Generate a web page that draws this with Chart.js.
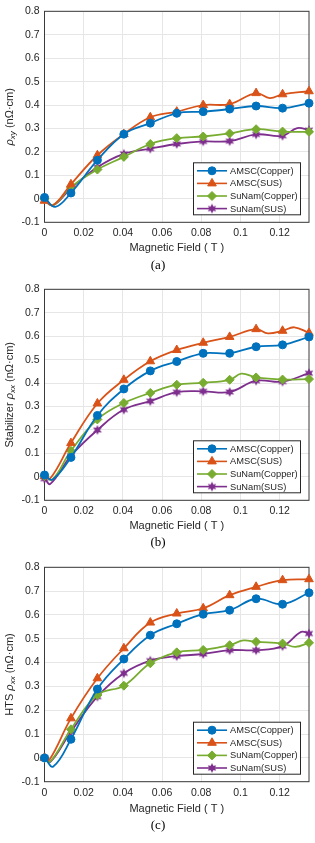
<!DOCTYPE html>
<html>
<head>
<meta charset="utf-8">
<script src="https://cdn.jsdelivr.net/npm/chart.js@4.4.1/dist/chart.umd.min.js"></script>
<style>
  html, body { margin: 0; padding: 0; background: #fff; }
  #wrap { position: relative; width: 315px; height: 843px; }
  canvas { position: absolute; left: 0; }
</style>
</head>
<body>
<div id="wrap">
  <canvas id="chartA" width="315" height="278" style="top:0"></canvas>
  <canvas id="chartB" width="315" height="278" style="top:278px"></canvas>
  <canvas id="chartC" width="315" height="287" style="top:556px"></canvas>
</div>
<script>
// magnetic field steps (T)
const fieldT = [0, 0.0135, 0.027, 0.0405, 0.054, 0.0675, 0.081, 0.0945, 0.108, 0.1215, 0.135];
const seriesNames = ['AMSC(Copper)', 'AMSC(SUS)', 'SuNam(Copper)', 'SuNam(SUS)'];
const yTicks = [-0.1, 0, 0.1, 0.2, 0.3, 0.4, 0.5, 0.6, 0.7, 0.8];
const xTicks = [0, 0.02, 0.04, 0.06, 0.08, 0.1, 0.12];

// (a) rho_xy
const xyAmscCopper = [0.006, 0.025, 0.165, 0.276, 0.323, 0.365, 0.372, 0.383, 0.396, 0.387, 0.408];
const xyAmscSus = [-0.008, 0.062, 0.186, 0.276, 0.348, 0.372, 0.400, 0.404, 0.451, 0.446, 0.459];
const xySunamCopper = [0, 0.050, 0.125, 0.179, 0.234, 0.259, 0.266, 0.279, 0.297, 0.287, 0.286];
const xySunamSus = [0, 0.045, 0.135, 0.192, 0.214, 0.234, 0.245, 0.246, 0.275, 0.269, 0.293];
// extra points of the drawn curves between markers (field, value)
const xyCurveAmscCopper = [[0.0055, -0.034]];
const xyCurveAmscSus = [[0.0043, -0.027], [0.115, 0.430]];
const xyCurveSunamCopper = [[0.0043, -0.027]];
const xyCurveSunamSus = [[0.0043, -0.028], [0.129, 0.302]];

// (b) stabilizer rho_xx
const sxAmscCopper = [0.008, 0.083, 0.262, 0.375, 0.452, 0.492, 0.527, 0.527, 0.555, 0.563, 0.597];
const sxAmscSus = [0.003, 0.144, 0.313, 0.414, 0.493, 0.541, 0.572, 0.597, 0.630, 0.623, 0.614];
const sxSunamCopper = [0.003, 0.111, 0.245, 0.315, 0.358, 0.393, 0.401, 0.414, 0.424, 0.415, 0.417];
const sxSunamSus = [-0.008, 0.090, 0.200, 0.287, 0.323, 0.361, 0.365, 0.362, 0.410, 0.406, 0.442];
const sxCurveAmscCopper = [[0.004, -0.012]];
const sxCurveAmscSus = [[0.003, -0.006], [0.114, 0.612], [0.1275, 0.638]];
const sxCurveSunamCopper = [[0.004, -0.012], [0.1005, 0.440]];
const sxCurveSunamSus = [[0.003, -0.030]];

// (c) HTS rho_xx
const hxAmscCopper = [0, 0.078, 0.289, 0.415, 0.515, 0.563, 0.603, 0.620, 0.668, 0.645, 0.693];
const hxAmscSus = [0, 0.166, 0.334, 0.460, 0.568, 0.606, 0.628, 0.683, 0.718, 0.746, 0.750];
const hxSunamCopper = [0, 0.120, 0.264, 0.303, 0.397, 0.443, 0.453, 0.473, 0.487, 0.480, 0.483];
const hxSunamSus = [0, 0.110, 0.257, 0.355, 0.408, 0.427, 0.436, 0.452, 0.452, 0.469, 0.522];
const hxCurveAmscCopper = [[0.0045, -0.036]];
const hxCurveAmscSus = [[0.0025, -0.008]];
const hxCurveSunamCopper = [[0.003, -0.015], [0.1015, 0.493], [0.128, 0.466]];
const hxCurveSunamSus = [[0.003, -0.017], [0.131, 0.529]];

const FONT = "'Liberation Sans', Arial, sans-serif";
Chart.defaults.font.family = FONT;
Chart.defaults.font.size = 10.5;
Chart.defaults.color = '#262626';

function makeStar(color, r) {
    const c = document.createElement('canvas');
    const s = Math.ceil(r * 2 + 2);
    c.width = s; c.height = s;
    const g = c.getContext('2d');
    g.fillStyle = color;
    g.beginPath();
    for (let i = 0; i < 12; i++) {
        const ang = -Math.PI / 2 + i * Math.PI / 6;
        const rr = i % 2 === 0 ? r : r * 0.5;
        g.lineTo(s / 2 + rr * Math.cos(ang), s / 2 + rr * Math.sin(ang));
    }
    g.closePath();
    g.fill();
    return c;
}

const styles = [
    { color: '#0072BD', point: 'circle', radius: 4 },
    { color: '#D95319', point: 'triangle', radius: 5 },
    { color: '#77AC30', point: 'rectRot', radius: 4.5 },
    { color: '#7E2F8E', point: makeStar('#7E2F8E', 5), radius: 5 }
];

function makeDataset(i, values, curve) {
    const st = styles[i];
    const pts = values.map((v, k) => ({ x: fieldT[k], y: v, mark: true }));
    curve.forEach(p => pts.push({ x: p[0], y: p[1], mark: false }));
    pts.sort((p, q) => p.x - q.x);
    return {
        label: seriesNames[i],
        data: pts,
        borderColor: st.color,
        backgroundColor: st.color,
        borderWidth: 1.8,
        tension: 0.4,
        pointStyle: st.point,
        pointRadius: ctx => (ctx.raw && ctx.raw.mark ? st.radius : 0),
        pointBorderWidth: 1,
        pointHoverRadius: 0,
        clip: false
    };
}

function fmt(v) {
    return parseFloat(v.toFixed(4)).toString();
}

// box, titles, legend and caption
const panelDecor = {
    id: 'panelDecor',
    beforeDatasetsDraw(chart) {
        const { ctx, chartArea: a } = chart;
        ctx.save();
        ctx.strokeStyle = '#3a3a3a';
        ctx.lineWidth = 1;
        ctx.strokeRect(a.left, a.top, a.right - a.left, a.bottom - a.top);
        ctx.restore();
    },
    afterDraw(chart, args, opts) {
        const { ctx, chartArea: a } = chart;
        ctx.save();
        ctx.fillStyle = '#262626';

        // x title
        ctx.font = '11px ' + FONT;
        ctx.textAlign = 'center';
        ctx.textBaseline = 'middle';
        ctx.fillText('Magnetic Field ( T )', (a.left + a.right) / 2, a.bottom + opts.titleDy);

        // caption
        ctx.fillStyle = '#000';
        ctx.font = '13px "Liberation Serif", "Times New Roman", serif';
        ctx.fillText(opts.caption, 158, a.bottom + opts.captionDy);

        // y title with subscript
        ctx.fillStyle = '#262626';
        const parts = opts.yTitle;
        ctx.translate(10, (a.top + a.bottom) / 2);
        ctx.rotate(-Math.PI / 2);
        let total = 0;
        parts.forEach(p => { ctx.font = p.font; p.w = ctx.measureText(p.text).width; total += p.w; });
        let x = -total / 2;
        ctx.textAlign = 'left';
        parts.forEach(p => { ctx.font = p.font; ctx.fillText(p.text, x, p.dy || 0); x += p.w; });
        ctx.restore();

        // legend
        ctx.save();
        const w = 107, h = 52;
        const left = a.right - 9 - w, top = a.bottom - 8 - h;
        ctx.fillStyle = '#fff';
        ctx.fillRect(left, top, w, h);
        ctx.strokeStyle = '#262626';
        ctx.lineWidth = 1;
        ctx.strokeRect(left + 0.5, top + 0.5, w, h);
        chart.data.datasets.forEach((ds, i) => {
            const st = styles[i];
            const y = top + 8.5 + i * 12.6;
            ctx.strokeStyle = st.color;
            ctx.fillStyle = st.color;
            ctx.lineWidth = 1.6;
            ctx.beginPath();
            ctx.moveTo(left + 4, y);
            ctx.lineTo(left + 34, y);
            ctx.stroke();
            ctx.lineWidth = 1;
            Chart.helpers.drawPoint(ctx, { pointStyle: st.point, radius: st.radius, borderWidth: 1, rotation: 0 }, left + 19, y);
            ctx.fillStyle = '#262626';
            ctx.font = '9.3px ' + FONT;
            ctx.textAlign = 'left';
            ctx.textBaseline = 'middle';
            ctx.fillText(ds.label, left + 37, y + 0.5);
        });
        ctx.restore();
    }
};

function rhoParts(prefix, sub) {
    const parts = [];
    if (prefix) parts.push({ text: prefix, font: '11px ' + FONT });
    parts.push({ text: 'ρ', font: 'italic 11px ' + FONT });
    parts.push({ text: sub, font: 'italic 8px ' + FONT, dy: 3 });
    parts.push({ text: ' (nΩ·cm)', font: '11px ' + FONT });
    return parts;
}

function makeChart(id, cfg) {
    const el = document.getElementById(id);
    const H = el.height;
    return new Chart(el, {
        type: 'line',
        data: { datasets: cfg.datasets },
        options: {
            responsive: false,
            animation: false,
            events: [],
            layout: { padding: { top: cfg.top, right: 5.5, left: 0, bottom: 0 } },
            plugins: {
                legend: { display: false },
                tooltip: { enabled: false },
                panelDecor: { yTitle: cfg.yTitle, caption: cfg.caption, titleDy: cfg.titleDy, captionDy: cfg.captionDy }
            },
            scales: {
                x: {
                    type: 'linear',
                    min: 0,
                    max: 0.135,
                    afterBuildTicks: s => { s.ticks = xTicks.map(v => ({ value: v })); },
                    afterFit: s => { s.height = H - cfg.bottom; },
                    ticks: { padding: cfg.tickPad, maxRotation: 0, autoSkip: false, callback: fmt, color: '#262626' },
                    grid: { color: '#e6e6e6', drawTicks: false },
                    border: { display: false }
                },
                y: {
                    min: -0.1,
                    max: 0.8,
                    afterBuildTicks: s => { s.ticks = yTicks.map(v => ({ value: v })); },
                    afterFit: s => { s.width = 44.5; },
                    ticks: { padding: 5, callback: fmt, color: '#262626' },
                    grid: { color: '#e6e6e6', drawTicks: false },
                    border: { display: false }
                }
            }
        },
        plugins: [panelDecor]
    });
}

makeChart('chartA', {
    top: 9, bottom: 222.3, tickPad: 4.4, titleDy: 26, captionDy: 43, caption: '(a)',
    yTitle: rhoParts('', 'xy'),
    datasets: [
        makeDataset(0, xyAmscCopper, xyCurveAmscCopper),
        makeDataset(1, xyAmscSus, xyCurveAmscSus),
        makeDataset(2, xySunamCopper, xyCurveSunamCopper),
        makeDataset(3, xySunamSus, xyCurveSunamSus)
    ]
});

makeChart('chartB', {
    top: 9, bottom: 222.3, tickPad: 4.2, titleDy: 25.7, captionDy: 42.4, caption: '(b)',
    yTitle: rhoParts('Stabilizer ', 'xx'),
    datasets: [
        makeDataset(0, sxAmscCopper, sxCurveAmscCopper),
        makeDataset(1, sxAmscSus, sxCurveAmscSus),
        makeDataset(2, sxSunamCopper, sxCurveSunamCopper),
        makeDataset(3, sxSunamSus, sxCurveSunamSus)
    ]
});

makeChart('chartC', {
    top: 11.3, bottom: 225.7, tickPad: 5.5, titleDy: 27, captionDy: 44, caption: '(c)',
    yTitle: rhoParts('HTS ', 'xx'),
    datasets: [
        makeDataset(0, hxAmscCopper, hxCurveAmscCopper),
        makeDataset(1, hxAmscSus, hxCurveAmscSus),
        makeDataset(2, hxSunamCopper, hxCurveSunamCopper),
        makeDataset(3, hxSunamSus, hxCurveSunamSus)
    ]
});
</script>
</body>
</html>
